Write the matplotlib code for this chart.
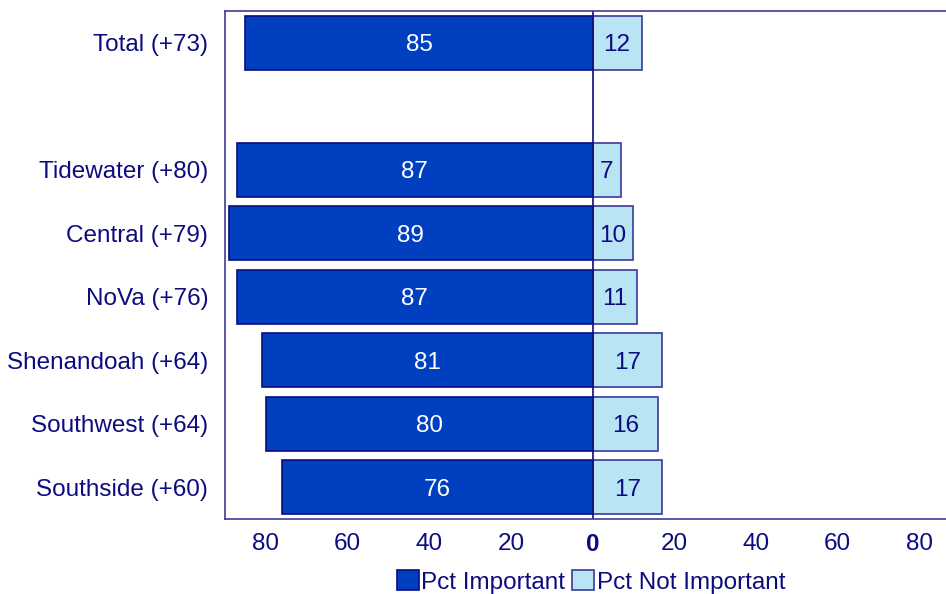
import matplotlib.pyplot as plt

# Regions and their net (+) scores
regions = ["Total (+73)", "Tidewater (+80)", "Central (+79)", "NoVa (+76)",
           "Shenandoah (+64)", "Southwest (+64)", "Southside (+60)"]
important = [85, 87, 89, 87, 81, 80, 76]
not_important = [12, 7, 10, 11, 17, 16, 17]
positions = [0, 2, 3, 4, 5, 6, 7]
ticks = [-80, -60, -40, -20, 0, 20, 40, 60, 80]
tick_labels = ["80", "60", "40", "20", "0", "20", "40", "60", "80"]

navy = "#0c0c80"
dark = "#0040c0"
light = "#b8e4f4"
fs = 17.5

plt.rcParams['font.family'] = ['Liberation Sans', 'DejaVu Sans']

fig = plt.figure(figsize=(9.46, 5.94), dpi=100)
# axes runs a little past the right edge of the picture
ax = fig.add_axes([225 / 946, 1 - 519 / 594, (960 - 225) / 946, (519 - 11) / 594])

neg = [-v for v in important]
ax.barh(positions, neg, height=0.85, color=dark, edgecolor=navy, linewidth=1.2,
        label="Pct Important")
ax.barh(positions, not_important, height=0.85, color=light, edgecolor="#3a3a9a",
        linewidth=1.2, label="Pct Not Important")

for p, v in zip(positions, important):
    ax.text(-v / 2, p, str(v), ha="center", va="center_baseline", color="white", fontsize=fs)
for p, v in zip(positions, not_important):
    ax.text(v / 2, p, str(v), ha="center", va="center_baseline", color=navy, fontsize=fs)

ax.axvline(0, color=navy, linewidth=1.2)

ax.set_xlim(-90, 90)
ax.set_ylim(7.5, -0.5)
ax.set_yticks(positions)
ax.set_yticklabels(regions, fontsize=fs, color=navy)
ax.set_xticks(ticks)
ax.set_xticklabels(tick_labels, fontsize=fs, color=navy)
ax.get_xticklabels()[4].set_fontweight("bold")
ax.tick_params(axis="both", length=0)
ax.tick_params(axis="y", pad=12)
ax.tick_params(axis="x", pad=10)

for s in ax.spines.values():
    s.set_color("#3c3c98")
    s.set_linewidth(1.2)

fig.legend(loc="center", bbox_to_anchor=(591 / 946, 1 - 582 / 594), ncol=2,
           frameon=False, fontsize=fs, handlelength=0.9, handleheight=0.9,
           handletextpad=0.1, columnspacing=0.3, labelcolor=navy)

fig.savefig("out.png", dpi=100)
